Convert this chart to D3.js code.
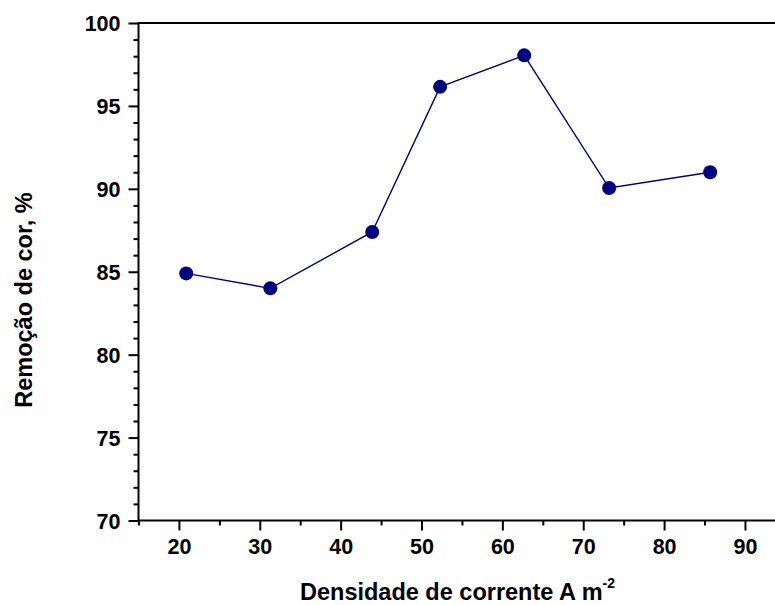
<!DOCTYPE html>
<html>
<head>
<meta charset="utf-8">
<script src="https://cdn.jsdelivr.net/npm/d3@7"></script>
<style>
  body { margin: 0; background: #fff; }
  svg text { font-family: "Liberation Sans", Arial, sans-serif; font-weight: bold; fill: #000; }
</style>
</head>
<body>
<svg id="chart" width="775" height="605" viewBox="0 0 775 605"></svg>
<script>
// data
const density = [20.9, 31.3, 43.9, 52.3, 62.7, 73.2, 85.7];
const removal = [84.9, 84.0, 87.4, 96.15, 98.05, 90.05, 91.0];

const xMajor = [20, 30, 40, 50, 60, 70, 80, 90];
const yMajor = [70, 75, 80, 85, 90, 95, 100];

const svg = d3.select("#chart");

const plotLeft = 138.5, plotTop = 23, plotBottom = 520.5;
const x = d3.scaleLinear().domain([15, 95]).range([plotLeft, plotLeft + 80 * 8.086]);
const y = d3.scaleLinear().domain([70, 100]).range([plotBottom, plotTop]);

// minor ticks
const xMinor = d3.range(15, 96, 5).filter(v => xMajor.indexOf(v) < 0);
const yMinor = d3.range(70, 101, 1).filter(v => yMajor.indexOf(v) < 0);

const xAxis = svg.append("g")
    .attr("transform", `translate(0,${plotBottom})`)
    .call(d3.axisBottom(x).tickValues(xMinor).tickSize(5).tickFormat(""));
xAxis.select(".domain").remove();
const xAxisMaj = svg.append("g")
    .attr("transform", `translate(0,${plotBottom})`)
    .call(d3.axisBottom(x).tickValues(xMajor).tickSize(10).tickPadding(8));
xAxisMaj.select(".domain").remove();

const yAxis = svg.append("g")
    .attr("transform", `translate(${plotLeft},0)`)
    .call(d3.axisLeft(y).tickValues(yMinor).tickSize(5).tickFormat(""));
yAxis.select(".domain").remove();
const yAxisMaj = svg.append("g")
    .attr("transform", `translate(${plotLeft},0)`)
    .call(d3.axisLeft(y).tickValues(yMajor).tickSize(10).tickPadding(8));
yAxisMaj.select(".domain").remove();

svg.selectAll(".tick line").attr("stroke", "#000").attr("stroke-width", 2);
svg.selectAll(".tick text").style("font-size", "21.5px");
yAxisMaj.selectAll(".tick text").attr("dy", "0.36em");

// frame: left, bottom, top
svg.append("path")
    .attr("d", `M${x(95)},${plotTop}H${plotLeft}V${plotBottom}H${x(95)}`)
    .attr("fill", "none")
    .attr("stroke", "#000")
    .attr("stroke-width", 2);

// series
const pts = density.map((d, i) => [d, removal[i]]);
svg.append("path")
    .datum(pts)
    .attr("fill", "none")
    .attr("stroke", "#000080")
    .attr("stroke-width", 1.4)
    .attr("d", d3.line().x(d => x(d[0])).y(d => y(d[1])));

svg.append("g").selectAll("circle")
    .data(pts)
    .enter()
    .append("circle")
    .attr("cx", d => x(d[0]))
    .attr("cy", d => y(d[1]))
    .attr("r", 7)
    .attr("fill", "#000080");

// axis titles
const xt = svg.append("text")
    .attr("x", 300)
    .attr("y", 600)
    .style("font-size", "23.5px");
xt.append("tspan").text("Densidade de corrente A m");
xt.append("tspan").attr("dy", -12).style("font-size", "14px").text("-2");

svg.append("text")
    .attr("transform", "translate(32,300) rotate(-90)")
    .attr("text-anchor", "middle")
    .style("font-size", "23.5px")
    .text("Remoção de cor, %");
</script>
</body>
</html>
